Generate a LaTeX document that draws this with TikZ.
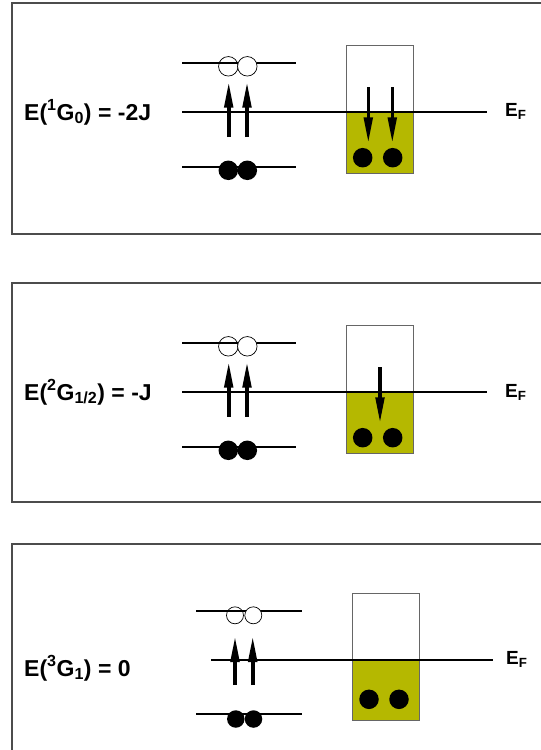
\documentclass[tikz,border=0pt]{standalone}
\usepackage{fontspec}
\setmainfont{Liberation Sans}
\usetikzlibrary{arrows.meta}
\definecolor{bandfill}{RGB}{181,184,0}
\definecolor{framegray}{gray}{0.3}

\begin{document}
\begin{tikzpicture}[x=1pt,y=-1pt,
  every node/.style={font=\bfseries\fontsize{23}{26}\selectfont,inner sep=0pt},
  panel/.style={draw=framegray,line width=1.2pt},
  level/.style={line width=1.8pt},
  band/.style={draw=black!60,line width=0.9pt},
  hole/.style={circle,draw,line width=0.7pt,minimum size=19.5pt},
  elec/.style={circle,fill=black,minimum size=19.5pt},
  spin/.style={line width=3.6pt,-{Triangle[length=26pt,width=8.5pt]}},
  efl/.style={anchor=base west,font=\bfseries\fontsize{19}{22}\selectfont} ]
  \clip (0,0) rectangle (541,750);

  % first panel
  \draw[panel] (12,3) rectangle (600,234);
  \fill[bandfill] (346.7,111.7) rectangle (413.3,173.3);
  \draw[band] (346.7,45) rectangle (413.3,173.3);
  \draw[level] (182,63.3) -- (296,63.3);
  \draw[level] (182,166.7) -- (296,166.7);
  \draw[level] (182,111.7) -- (487,111.7);
  \node[hole] (h1a) at (228.3,66.3) {};
  \node[hole,fill=white] (h1b) at (247.3,66.3) {};
  \node[elec] (c1a) at (228.3,170.3) {};
  \node[elec] (c1b) at (247.3,170.3) {};
  \draw[spin] (228.7,137) -- (228.7,81.7);
  \draw[spin] (247,137) -- (247,81.7);
  \draw[spin] (368.3,87.3) -- (368.3,143.3);
  \draw[spin] (392.3,87.3) -- (392.3,143.3);
  \node[elec] (d1a) at (362.7,157.7) {};
  \node[elec] (d1b) at (392.7,157.7) {};
  \node[anchor=base west] (e1) at (24,120) {E(\textsuperscript{1}G\textsubscript{0}) = -2J};
  \node[efl] (ef1) at (505,116.5) {E\textsubscript{F}};

  % second panel
  \draw[panel] (12,283) rectangle (600,502);
  \fill[bandfill] (346.7,392.3) rectangle (413.3,453.3);
  \draw[band] (346.7,325.7) rectangle (413.3,453.3);
  \draw[level] (182,343.3) -- (296,343.3);
  \draw[level] (182,446.7) -- (296,446.7);
  \draw[level] (182,392.3) -- (487,392.3);
  \node[hole] (h2a) at (228.3,346.3) {};
  \node[hole,fill=white] (h2b) at (247.3,346.3) {};
  \node[elec] (c2a) at (228.3,450.3) {};
  \node[elec] (c2b) at (247.3,450.3) {};
  \draw[spin] (228.7,416.7) -- (228.7,361.7);
  \draw[spin] (247,416.7) -- (247,361.7);
  \draw[spin] (380,367.3) -- (380,423.3);
  \node[elec] (d2a) at (362.7,437.7) {};
  \node[elec] (d2b) at (392.7,437.7) {};
  \node[anchor=base west] (e2) at (24,400) {E(\textsuperscript{2}G\textsubscript{1/2}) = -J};
  \node[efl] (ef2) at (505,397) {E\textsubscript{F}};

  % third panel
  \draw[panel] (12,544) rectangle (600,800);
  \fill[bandfill] (352.7,660) rectangle (419.3,720.7);
  \draw[band] (352.7,593.3) rectangle (419.3,720.7);
  \draw[level] (196,611) -- (301.7,611);
  \draw[level] (196,714.3) -- (301.7,714.3);
  \draw[level] (211,660) -- (493,660);
  \node[hole,minimum size=17pt] (h3a) at (235,615.3) {};
  \node[hole,fill=white,minimum size=17pt] (h3b) at (253.3,615.3) {};
  \node[elec,minimum size=17.5pt] (c3a) at (235.8,719) {};
  \node[elec,minimum size=17.5pt] (c3b) at (253.5,719) {};
  \draw[spin] (235,685) -- (235,636);
  \draw[spin] (252.7,685) -- (252.7,636);
  \node[elec] (d3a) at (369,699.3) {};
  \node[elec] (d3b) at (399,699.3) {};
  \node[anchor=base west] (e3) at (24,676) {E(\textsuperscript{3}G\textsubscript{1}) = 0};
  \node[efl] (ef3) at (506,664.5) {E\textsubscript{F}};
\end{tikzpicture}
\end{document}
